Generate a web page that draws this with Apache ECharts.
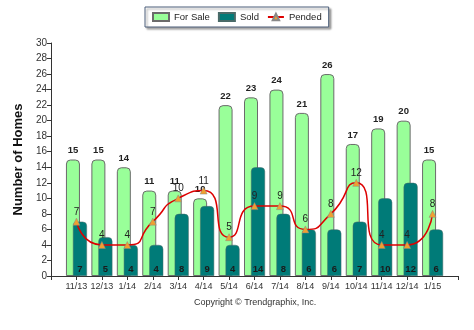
<!DOCTYPE html>
<html><head><meta charset="utf-8">
<script src="https://cdn.jsdelivr.net/npm/echarts@6/dist/echarts.min.js"></script>
<style>html,body{margin:0;padding:0;background:#fff}#c{width:474px;height:330px}</style>
</head><body><div id="c"></div>
<script>
var months = ['11/13','12/13','1/14','2/14','3/14','4/14','5/14','6/14','7/14','8/14','9/14','10/14','11/14','12/14','1/15'];
var forSale = [15,15,14,11,11,10,22,23,24,21,26,17,19,20,15];
var sold = [7,5,4,4,8,9,4,14,8,6,6,7,10,12,6];
var pended = [7,4,4,7,10,11,5,9,9,6,8,12,4,4,8];
var yTicks = {min:0, max:30, interval:2};

function pad(a, v){ return [v].concat(a, [v]); }
var font = '"Liberation Sans", Arial, sans-serif';
var chart = echarts.init(document.getElementById('c'), null, {renderer:'canvas'});
chart.setOption({
  animation:false,
  textStyle:{fontFamily:font},
  legend:{
    top:7, left:145,
    data:[{name:'For Sale', icon:'rect'},{name:'Sold', icon:'rect'},{name:'Pended'}],
    itemWidth:16, itemHeight:8, itemGap:8,
    textStyle:{fontSize:9.5, color:'#222', fontFamily:font},
    borderColor:'#4d5f7a', borderWidth:1, padding:[5,7,5,7],
    backgroundColor:'#fff',
    shadowColor:'rgba(0,0,0,0.35)', shadowBlur:2, shadowOffsetX:2, shadowOffsetY:2
  },
  grid:{left:51, right:16, top:43, bottom:54},
  xAxis:{
    type:'category', boundaryGap:false, data:pad(months,''),
    axisLine:{lineStyle:{color:'#333'}},
    axisTick:{interval:0, length:4, lineStyle:{color:'#333'}},
    axisLabel:{interval:0, fontSize:9, color:'#333', margin:6}
  },
  yAxis:{
    type:'value', min:yTicks.min, max:yTicks.max, interval:yTicks.interval,
    name:'Number of Homes', nameLocation:'middle', nameGap:25,
    nameTextStyle:{fontSize:13, fontWeight:'bold', color:'#111'},
    axisLine:{show:true, lineStyle:{color:'#333'}},
    axisTick:{show:true, length:4, lineStyle:{color:'#333'}},
    axisLabel:{fontSize:10, color:'#333', margin:4},
    splitLine:{show:false}
  },
  series:[
    {name:'For Sale', type:'bar', data:pad(forSale,null), barWidth:14, barGap:'-50%',
     itemStyle:{color:'#99ff99', borderColor:'#6b6b6b', borderWidth:1, borderRadius:[4,4,0,0]},
     label:{show:true, position:'top', distance:4, fontSize:9.5, fontWeight:'bold', color:'#222'}},
    {name:'Sold', type:'bar', data:pad(sold,null), barWidth:14,
     itemStyle:{color:'#007b78', borderColor:'#4a6a68', borderWidth:0.5, borderRadius:[4,4,0,0]},
     label:{show:true, position:'insideBottom', distance:2, fontSize:9.5, fontWeight:'bold', color:'#1a1a1a'}},
    {name:'Pended', type:'line', data:pad(pended,null), smooth:0.7, z:5,
     lineStyle:{color:'#dd0000', width:1.5},
     symbol:'triangle', symbolSize:7,
     itemStyle:{color:'#f0a030', borderColor:'#888', borderWidth:0.5},
     label:{show:true, position:'top', distance:1, fontSize:10, color:'#222'}}
  ],
  graphic:[{type:'text', left:194, top:298, style:{text:'Copyright \u00a9 Trendgraphix, Inc.', fontSize:9, fill:'#333', fontFamily:font}}]
});
</script></body></html>
